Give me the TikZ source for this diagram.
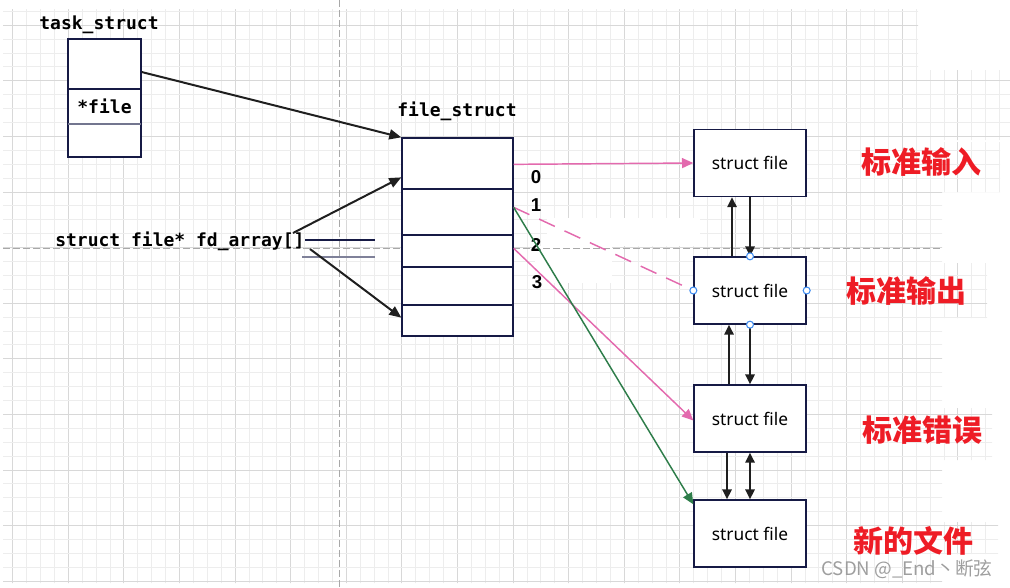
\documentclass[tikz,border=0pt]{standalone}
\usepackage{fontspec}
\setmainfont{Noto Sans}
\setsansfont{Liberation Sans}
\setmonofont{DejaVu Sans Mono}
\newfontfamily\cjkfont{Noto Sans CJK SC}
\usetikzlibrary{arrows.meta, calc}

\definecolor{gridminor}{HTML}{EDEDED}
\definecolor{gridmajor}{HTML}{D8D8D8}
\definecolor{guidecol}{HTML}{A8A8A8}
\definecolor{boxline}{HTML}{161A45}
\definecolor{pinkline}{HTML}{E36AAE}
\definecolor{greenline}{HTML}{2E7D4A}
\definecolor{handlecol}{HTML}{3D8BF0}
\definecolor{labelred}{HTML}{EE1C25}

\begin{document}
\begin{tikzpicture}[
		x=0.75pt, y=-0.75pt,
		box/.style={
			draw=boxline, line width=1pt, fill=white, inner sep=0pt
		},
		sfile/.style={
			box, minimum width=112*0.75pt, minimum height=67*0.75pt,
			font=\fontsize{13}{15}\selectfont
		},
		code/.style={font=\ttfamily\bfseries\fontsize{13.5}{16}\selectfont},
		idx/.style={font=\sffamily\bfseries\fontsize{14}{16}\selectfont},
		tag/.style={font=\cjkfont\bfseries\fontsize{22.5}{26}\selectfont, text=labelred},
		arr/.style={line width=1.5pt, draw=black!88, -{Triangle[length=9pt, width=7.5pt]}},
		varr/.style={line width=1.5pt, draw=black!88, -{Triangle[length=7.5pt, width=7pt]}},
		parr/.style={line width=1.1pt, draw=pinkline, -{Triangle[length=8.5pt, width=7.5pt]}},
		handle/.style={
			circle, draw=handlecol, fill=white, line width=0.8pt,
			minimum size=7*0.75pt, inner sep=0pt
		}
		]
		
		\useasboundingbox (0,0) rectangle (1010,587);
		
		% background grid
		\begin{scope}
			\clip (3,9) rectangle (918,583) (918,70) rectangle (942,583)
			(942,70) rectangle (1010,140) (860,142) rectangle (1000,192)
			(848,263) rectangle (987,318) (858,408) rectangle (992,460)
			(847,522) rectangle (998,554);
			\foreach \i in {0,...,72}{
				\pgfmathtruncatemacro\maj{mod(\i,4)==0}
				\ifnum\maj=1 \def\gc{gridmajor}\else\def\gc{gridminor}\fi
				\draw[\gc, line width=0.75pt] (12.7+13.9*\i, 0) -- ++(0,587);
			}
			\foreach \j in {0,...,41}{
				\pgfmathtruncatemacro\maj{mod(\j,4)==1}
				\ifnum\maj=1 \def\gc{gridmajor}\else\def\gc{gridminor}\fi
				\draw[\gc, line width=0.75pt] (0, 11.3+13.9*\j) -- ++(1010,0);
			}
		\end{scope}
		\fill[white] (547,218) rectangle (700,246);
		\fill[white] (535,246) rectangle (612,283);
		\draw[guidecol, line width=0.75pt, dash pattern=on 5pt off 2.5pt] (339,0) -- (339,587);
		\draw[guidecol, line width=0.75pt, dash pattern=on 5pt off 2.5pt] (3,248) -- (942,248);
		
		% task_struct
		\node[code] (tasklbl) at (99,25) {task\_struct};
		\node[box, minimum width=73*0.75pt, minimum height=118*0.75pt] (task) at (104.5,98) {};
		\draw[boxline, line width=1pt] (68,89) -- (141,89);
		\draw[boxline!60, line width=1pt] (68,124) -- (141,124);
		\node[code] (taskfile) at (104.5,106) {*file};
		
		% file_struct
		\node[code] (fslbl) at (457,111) {file\_struct};
		\node[box, minimum width=111*0.75pt, minimum height=198*0.75pt] (fs) at (457.5,237) {};
		\foreach \yy in {189,235,267,305}
			\draw[boxline, line width=1pt] (402,\yy) -- (513,\yy);
		
		% fd_array
		\node[code, anchor=west, inner sep=0pt] (fdarr) at (55,241) {struct file* fd\_array[]};
		\draw[boxline, line width=1pt] (305,240) -- (375,240);
		\draw[boxline!55, line width=1pt] (302,257) -- (375,257);
		\coordinate (fdup) at (293,233);
		\coordinate (fddn) at (310,249);
		
		% struct file boxes
		\node[sfile] (sf1) at (750,163) {struct file};
		\node[sfile] (sf2) at (750,290.5) {struct file};
		\node[sfile] (sf3) at (750,418.5) {struct file};
		\node[sfile] (sf4) at (750,533.5) {struct file};
		
		% indices
		\node[idx] (i0) at (536,177) {0};
		\node[idx] (i1) at (536,205) {1};
		\node[idx] (i2) at (536,245) {2};
		\node[idx] (i3) at (537,282) {3};
		
		% connectors
		\draw[arr] ($(task.east)+(0,-26)$) -- (fs.north west);
		\draw[arr] (fdup) -- ($(fs.north west)+(0,40)$);
		\draw[arr] (fddn) -- ($(fs.south west)+(0,-19)$);
		
		\draw[parr] ($(fs.north east)+(0,27)$) -- (sf1.west);
		\draw[pinkline, line width=1.1pt, dash pattern=on 13pt off 8pt] ($(fs.north east)+(0,70)$) -- (sf2.west);
		\draw[parr] ($(fs.north east)+(0,111)$) -- ($(sf3.west)+(0,2)$);
		\draw[greenline, line width=1.1pt, -{Triangle[length=8.5pt, width=7.5pt]}] ($(fs.north east)+(0,70)$) -- ($(sf4.north west)+(0,5)$);
		
		\draw[varr] ($(sf2.north)+(-18,0)$) -- ($(sf1.south)+(-18,0)$);
		\draw[varr] (sf1.south) -- (sf2.north);
		\draw[varr] ($(sf3.north)+(-21,0)$) -- ($(sf2.south)+(-21,0)$);
		\draw[varr] (sf2.south) -- (sf3.north);
		\draw[varr] ($(sf3.south)+(-23,0)$) -- ($(sf4.north)+(-23,0)$);
		\draw[varr, {Triangle[length=7.5pt, width=7pt]}-{Triangle[length=7.5pt, width=7pt]}] (sf3.south) -- (sf4.north);
		
		% selection handles
		\node[handle] (h1) at (sf2.north) {};
		\node[handle] (h2) at (sf2.south) {};
		\node[handle] (h3) at (sf2.west) {};
		\node[handle] (h4) at (sf2.east) {};
		
		% tags
		\node[tag] (stdin)  at (921,162) {标准输入};
		\node[tag] (stdout) at (906,291) {标准输出};
		\node[tag] (stderr) at (922,430) {标准错误};
		\node[tag] (newf)   at (913,541) {新的文件};
		
		\node[font=\cjkfont\fontsize{14}{16}\selectfont, text=black!38] (wm) at (907,569) {CSDN @\_End丶断弦};
		
	\end{tikzpicture}
\end{document}
